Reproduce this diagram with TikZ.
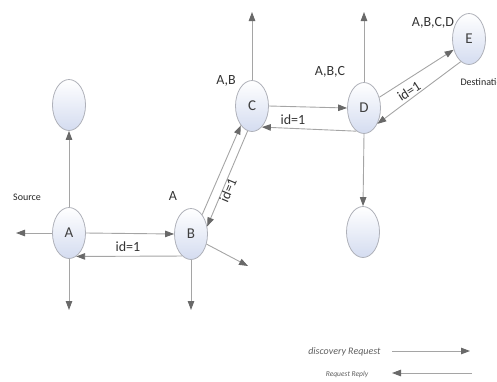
\documentclass[tikz,border=0pt]{standalone}
\usepackage{fontspec}
\setmainfont{Carlito}
\usetikzlibrary{arrows.meta,shapes.geometric}
\definecolor{nodeline}{RGB}{175,177,185}
\definecolor{nodefill}{RGB}{212,220,240}
\definecolor{linegray}{RGB}{165,165,165}
\definecolor{tipgray}{RGB}{105,105,105}
\definecolor{legendgray}{RGB}{95,95,95}
\begin{document}
\begin{tikzpicture}[x=1pt, y=-1pt,
    host/.style={ellipse, draw=nodeline, line width=0.8pt, top color=white,
      bottom color=nodefill, minimum width=33pt, minimum height=51pt,
      inner sep=0pt, text=black!75, font=\fontsize{15}{18}\selectfont},
    msg/.style={draw=linegray, line width=0.9pt,
      -{Triangle[length=9pt, width=6.5pt, color=tipgray]}},
    lbl/.style={text=black!80, font=\fontsize{14}{16}\selectfont},
    tag/.style={text=black!85, font=\fontsize{10}{12}\selectfont}]
  \useasboundingbox (0,0) rectangle (497,381);
  % hosts
  \node[host] (A) at (69,233) {A};
  \node[host] (B) at (191,234) {B};
  \node[host] (C) at (252,106) {C};
  \node[host] (D) at (364,108) {D};
  \node[host] (E) at (469,39) {E};
  \node[host] (N1) at (69,105) {};
  \node[host] (N2) at (363,232) {};
  % free ends
  \coordinate (aL) at (16,233);
  \coordinate (aD) at (69,310);
  \coordinate (bD) at (191,310);
  \coordinate (bR) at (248,266);
  \coordinate (cU) at (252,12);
  \coordinate (dU) at (364,12);
  \foreach \src/\dst in {A.north/N1.south, A.west/aL, A.south/aD, B.south/bD,
      B.-33/bR, C.north/cU, D.north/dU, D.south/N2.north}
    \draw[msg] (\src) -- (\dst);
  % discovery request and reply
  \foreach \src/\dst in {A.0/B.180, B.60/C.240, C.0/D.180, D.35/E.215}
    \draw[msg] (\src) -- (\dst);
  \foreach \src/\dst in {B.248/A.287, C.260/B.25, D.252/C.295, E.250/D.310}
    \draw[msg] (\src) -- (\dst);
  % labels
  \node[tag] (src) at (27,197) {Source};
  \node[tag, anchor=west] (dst) at (457,82) {Destination};
  \node[lbl] (pA) at (173,196) {A};
  \node[lbl] (pAB) at (226,81) {A,B};
  \node[lbl] (pABC) at (330,72) {A,B,C};
  \node[lbl] (pABCD) at (433,23) {A,B,C,D};
  \node[lbl] (idAB) at (128,247) {id=1};
  \node[lbl, rotate=67] (idBC) at (228,190) {id=1};
  \node[lbl] (idCD) at (293,120) {id=1};
  \node[lbl, rotate=33] (idDE) at (409,91) {id=1};
  % legend
  \node[text=legendgray, anchor=east, font=\fontsize{10}{12}\selectfont\itshape]
    (legReq) at (384,352) {discovery Request};
  \node[text=legendgray, font=\fontsize{7.5}{9}\selectfont\itshape]
    (legRep) at (347,374) {Request Reply};
  \coordinate (rqL) at (392,351);
  \coordinate (rqR) at (470,351);
  \coordinate (rpR) at (472,373);
  \coordinate (rpL) at (392,373);
  \draw[msg] (rqL) -- (rqR);
  \draw[msg] (rpR) -- (rpL);
\end{tikzpicture}
\end{document}
